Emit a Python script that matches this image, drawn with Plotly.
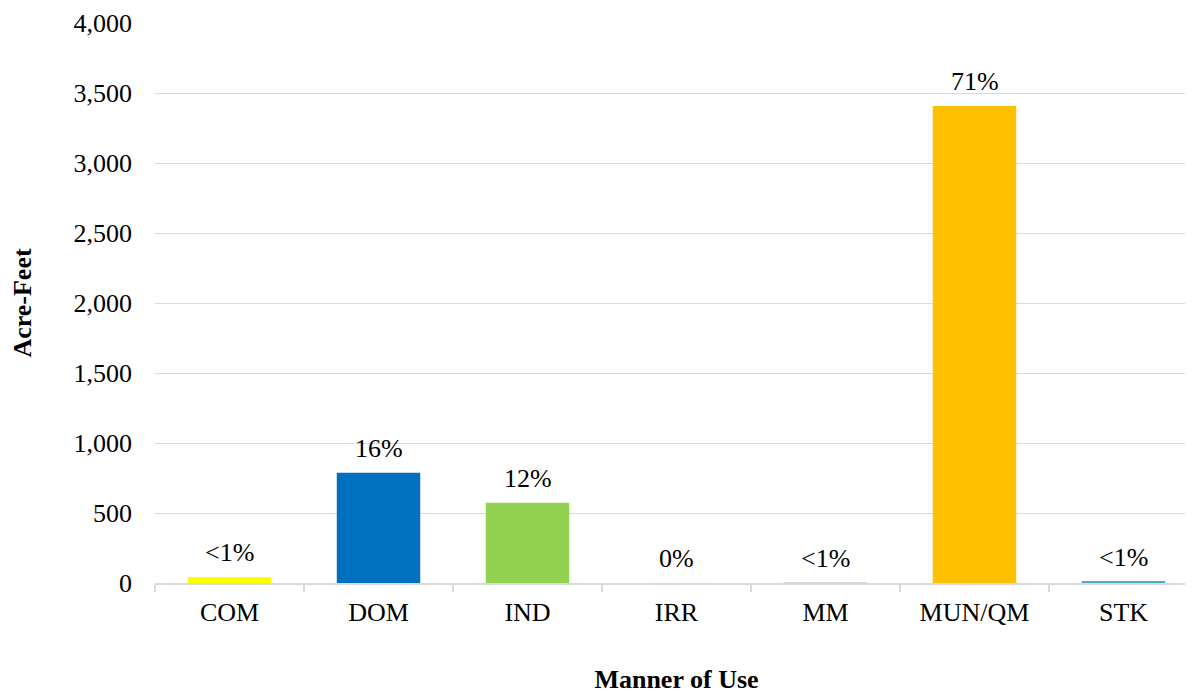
import plotly.graph_objects as go

categories = ["COM", "DOM", "IND", "IRR", "MM", "MUN/QM", "STK"]
acre_feet = [43, 788, 574, 0, 1, 3407, 10]
pct_labels = ["<1%", "16%", "12%", "0%", "<1%", "71%", "<1%"]
bar_colors = ["#FFFF00", "#0070C0", "#92D050", "#A5A5A5", "#D9D9D9", "#FFC000", "#4BACC6"]
y_ticks = [0, 500, 1000, 1500, 2000, 2500, 3000, 3500, 4000]

FONT = "Liberation Serif, Times New Roman, serif"
FS = 26

fig = go.Figure()
fig.add_trace(go.Bar(
    x=categories, y=acre_feet,
    marker=dict(color=bar_colors, line=dict(width=0)),
    width=0.56, hoverinfo="x+y",
))

for c, v, t in zip(categories, acre_feet, pct_labels):
    fig.add_annotation(x=c, y=v, text=t, showarrow=False, yanchor="bottom",
                       yshift=8, font=dict(family=FONT, size=FS, color="#000000"))

fig.update_layout(
    width=1190, height=686,
    margin=dict(l=147, r=0, t=15, b=111),
    paper_bgcolor="white", plot_bgcolor="white",
    showlegend=False,
    font=dict(family=FONT, size=FS, color="#000000"),
    xaxis=dict(
        type="category", automargin=False,
        showline=True, linecolor="#D9D9D9", linewidth=1.5,
        ticks="outside", tickson="boundaries", ticklen=7, tickcolor="#D9D9D9",
        tickwidth=1.5,
        tickfont=dict(family=FONT, size=FS),
        ticklabelstandoff=5,
        title=dict(text="<b>Manner of Use</b>", font=dict(family=FONT, size=FS), standoff=50),
    ),
    yaxis=dict(
        range=[0, 4000], automargin=False,
        tickvals=y_ticks,
        tickformat=",",
        showgrid=True, gridcolor="#D9D9D9", gridwidth=1,
        zeroline=False, showline=False,
        tickfont=dict(family=FONT, size=FS),
        ticklabelstandoff=22,
        title=dict(text="<b>Acre-Feet</b>", font=dict(family=FONT, size=FS), standoff=46),
    ),
)

fig.write_html("out.html")
